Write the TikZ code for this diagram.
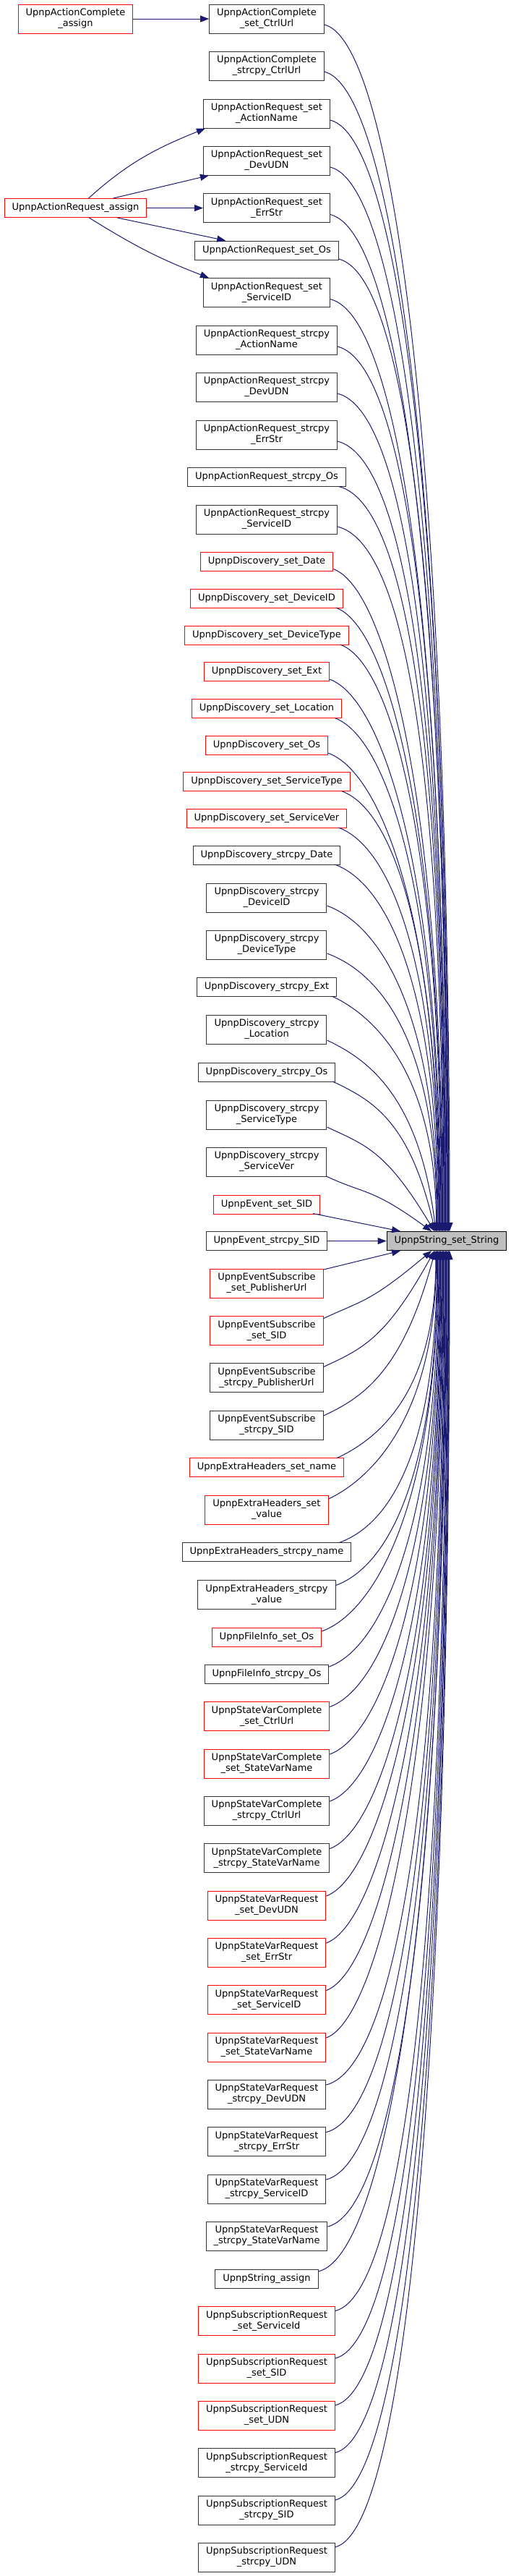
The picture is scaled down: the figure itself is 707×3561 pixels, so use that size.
\documentclass[tikz,border=0pt]{standalone}
\usepackage{fontspec}
\setmainfont{DejaVu Sans}
\usetikzlibrary{arrows.meta}
\definecolor{edgeblue}{HTML}{191970}
\definecolor{truncred}{HTML}{FF0000}

\begin{document}
\begin{tikzpicture}[x=0.05pt, y=-0.05pt, >={Triangle[length=0.6pt, width=0.45pt]},
	fn/.style={draw=black!80, fill=white, line width=0.05pt, font=\fontsize{0.65pt}{0.75pt}\selectfont, align=center, inner xsep=0.525pt, inner ysep=0.1pt, minimum height=1.3pt},
	two/.style={minimum height=2pt},
	trunc/.style={draw=truncred},
	call/.style={->, draw=edgeblue, line width=0.05pt},
	farup/.style={call, out=-14, out distance=5pt, in=90, in looseness=1.6},
	midup/.style={call, out=-20, out distance=4pt, in=90, in looseness=1.6},
	nearup/.style={call, out=-25, out distance=3pt, in looseness=1.6},
	farlo/.style={call, out=14, out distance=5pt, in=-90, in looseness=1.6},
	midlo/.style={call, out=20, out distance=4pt, in=-90, in looseness=1.6},
	nearlo/.style={call, out=25, out distance=3pt, in looseness=1.6}]
				\useasboundingbox (0,0) rectangle (707,3561);
				
				% 1. 左侧调用者与被调函数
				\node[fn, two, trunc] (acAssign) at (104.5,26) {UpnpActionComplete\\\_assign};
				\node[fn, trunc] (arAssign) at (104.5,287.5) {UpnpActionRequest\_assign};
				\node[fn, fill=black!25, draw=black] (tgt) at (618,1715.5) {UpnpString\_set\_String};
				
				% 2. 中间一列调用者 (上半部分)
				\node[fn, two] (acSetCtrlUrl) at (369,26) {UpnpActionComplete\\\_set\_CtrlUrl};
				\node[fn, two] (acCpyCtrlUrl) at (369,91) {UpnpActionComplete\\\_strcpy\_CtrlUrl};
				\node[fn, two] (arSetActionName) at (369,157) {UpnpActionRequest\_set\\\_ActionName};
				\node[fn, two] (arSetDevUDN) at (369,222) {UpnpActionRequest\_set\\\_DevUDN};
				\node[fn, two] (arSetErrStr) at (369,287.5) {UpnpActionRequest\_set\\\_ErrStr};
				\node[fn] (arSetOs) at (369,346) {UpnpActionRequest\_set\_Os};
				\node[fn, two] (arSetServiceID) at (369,404.5) {UpnpActionRequest\_set\\\_ServiceID};
				\node[fn, two] (arCpyActionName) at (369,470) {UpnpActionRequest\_strcpy\\\_ActionName};
				\node[fn, two] (arCpyDevUDN) at (369,535) {UpnpActionRequest\_strcpy\\\_DevUDN};
				\node[fn, two] (arCpyErrStr) at (369,601) {UpnpActionRequest\_strcpy\\\_ErrStr};
				\node[fn] (arCpyOs) at (369,659.5) {UpnpActionRequest\_strcpy\_Os};
				\node[fn, two] (arCpyServiceID) at (369,718) {UpnpActionRequest\_strcpy\\\_ServiceID};
				\node[fn, trunc] (dSetDate) at (369,776.5) {UpnpDiscovery\_set\_Date};
				\node[fn, trunc] (dSetDeviceID) at (369,827) {UpnpDiscovery\_set\_DeviceID};
				\node[fn, trunc] (dSetDeviceType) at (369,878) {UpnpDiscovery\_set\_DeviceType};
				\node[fn, trunc] (dSetExt) at (369,928) {UpnpDiscovery\_set\_Ext};
				\node[fn, trunc] (dSetLocation) at (369,979.5) {UpnpDiscovery\_set\_Location};
				\node[fn, trunc] (dSetOs) at (369,1030) {UpnpDiscovery\_set\_Os};
				\node[fn, trunc] (dSetServiceType) at (369,1080.5) {UpnpDiscovery\_set\_ServiceType};
				\node[fn, trunc] (dSetServiceVer) at (369,1131) {UpnpDiscovery\_set\_ServiceVer};
				\node[fn] (dCpyDate) at (369,1182) {UpnpDiscovery\_strcpy\_Date};
				\node[fn, two] (dCpyDeviceID) at (369,1241) {UpnpDiscovery\_strcpy\\\_DeviceID};
				\node[fn, two] (dCpyDeviceType) at (369,1306) {UpnpDiscovery\_strcpy\\\_DeviceType};
				\node[fn] (dCpyExt) at (369,1364.5) {UpnpDiscovery\_strcpy\_Ext};
				\node[fn, two] (dCpyLocation) at (369,1423) {UpnpDiscovery\_strcpy\\\_Location};
				\node[fn] (dCpyOs) at (369,1482) {UpnpDiscovery\_strcpy\_Os};
				\node[fn, two] (dCpyServiceType) at (369,1541) {UpnpDiscovery\_strcpy\\\_ServiceType};
				\node[fn, two] (dCpyServiceVer) at (369,1606) {UpnpDiscovery\_strcpy\\\_ServiceVer};
				\node[fn, trunc] (evSetSID) at (369,1665) {UpnpEvent\_set\_SID};
				\node[fn] (evCpySID) at (369,1715.5) {UpnpEvent\_strcpy\_SID};
				
				% 3. 中间一列调用者 (下半部分)
				\node[fn, two, trunc] (esSetPubUrl) at (369,1774) {UpnpEventSubscribe\\\_set\_PublisherUrl};
				\node[fn, two, trunc] (esSetSID) at (369,1839.5) {UpnpEventSubscribe\\\_set\_SID};
				\node[fn, two] (esCpyPubUrl) at (369,1904.5) {UpnpEventSubscribe\\\_strcpy\_PublisherUrl};
				\node[fn, two] (esCpySID) at (369,1970) {UpnpEventSubscribe\\\_strcpy\_SID};
				\node[fn, trunc] (ehSetName) at (369,2028.5) {UpnpExtraHeaders\_set\_name};
				\node[fn, two, trunc] (ehSetValue) at (369,2087) {UpnpExtraHeaders\_set\\\_value};
				\node[fn] (ehCpyName) at (369,2145.5) {UpnpExtraHeaders\_strcpy\_name};
				\node[fn, two] (ehCpyValue) at (369,2204.5) {UpnpExtraHeaders\_strcpy\\\_value};
				\node[fn, trunc] (fiSetOs) at (369,2263) {UpnpFileInfo\_set\_Os};
				\node[fn] (fiCpyOs) at (369,2314) {UpnpFileInfo\_strcpy\_Os};
				\node[fn, two, trunc] (svcSetCtrlUrl) at (369,2372.5) {UpnpStateVarComplete\\\_set\_CtrlUrl};
				\node[fn, two, trunc] (svcSetVarName) at (369,2438) {UpnpStateVarComplete\\\_set\_StateVarName};
				\node[fn, two] (svcCpyCtrlUrl) at (369,2503) {UpnpStateVarComplete\\\_strcpy\_CtrlUrl};
				\node[fn, two] (svcCpyVarName) at (369,2568.5) {UpnpStateVarComplete\\\_strcpy\_StateVarName};
				\node[fn, two, trunc] (svrSetDevUDN) at (369,2634) {UpnpStateVarRequest\\\_set\_DevUDN};
				\node[fn, two, trunc] (svrSetErrStr) at (369,2699) {UpnpStateVarRequest\\\_set\_ErrStr};
				\node[fn, two, trunc] (svrSetServiceID) at (369,2764.5) {UpnpStateVarRequest\\\_set\_ServiceID};
				\node[fn, two, trunc] (svrSetVarName) at (369,2830) {UpnpStateVarRequest\\\_set\_StateVarName};
				\node[fn, two] (svrCpyDevUDN) at (369,2895) {UpnpStateVarRequest\\\_strcpy\_DevUDN};
				\node[fn, two] (svrCpyErrStr) at (369,2960.5) {UpnpStateVarRequest\\\_strcpy\_ErrStr};
				\node[fn, two] (svrCpyServiceID) at (369,3026) {UpnpStateVarRequest\\\_strcpy\_ServiceID};
				\node[fn, two] (svrCpyVarName) at (369,3091) {UpnpStateVarRequest\\\_strcpy\_StateVarName};
				\node[fn] (strAssign) at (369,3150) {UpnpString\_assign};
				\node[fn, two, trunc] (srSetServiceId) at (369,3208.5) {UpnpSubscriptionRequest\\\_set\_ServiceId};
				\node[fn, two, trunc] (srSetSID) at (369,3274) {UpnpSubscriptionRequest\\\_set\_SID};
				\node[fn, two, trunc] (srSetUDN) at (369,3339) {UpnpSubscriptionRequest\\\_set\_UDN};
				\node[fn, two] (srCpyServiceId) at (369,3404.5) {UpnpSubscriptionRequest\\\_strcpy\_ServiceId};
				\node[fn, two] (srCpySID) at (369,3470) {UpnpSubscriptionRequest\\\_strcpy\_SID};
				\node[fn, two] (srCpyUDN) at (369,3535) {UpnpSubscriptionRequest\\\_strcpy\_UDN};
				
				% 4. 左侧调用关系
				\draw[call] (acAssign) -- (acSetCtrlUrl);
				\draw[call] ([shift={(18,0)}]arAssign.north) to[out=42, in=-158] ([shift={(3,0)}]arSetActionName.south west);
				\draw[call] ([shift={(52,0)}]arAssign.north) -- ([shift={(8,0)}]arSetDevUDN.south west);
				\draw[call] (arAssign) -- (arSetErrStr);
				\draw[call] ([shift={(58,0)}]arAssign.south) -- ([shift={(43,0)}]arSetOs.north west);
				\draw[call] ([shift={(19,0)}]arAssign.south) to[out=-32, in=159] ([shift={(8,0)}]arSetServiceID.north west);
				
				% 5. 汇入目标顶部的连线
				\draw[farup] ([shift={(0,8)}]acSetCtrlUrl.east) to ([shift={(4,0)}]tgt.north);
				\draw[farup] ([shift={(0,8)}]acCpyCtrlUrl.east) to ([shift={(3,0)}]tgt.north);
				\draw[farup] ([shift={(0,9)}]arSetActionName.east) to ([shift={(2.5,0)}]tgt.north);
				\draw[farup] ([shift={(0,9)}]arSetDevUDN.east) to ([shift={(1.5,0)}]tgt.north);
				\draw[farup] ([shift={(0,9)}]arSetErrStr.east) to ([shift={(1,0)}]tgt.north);
				\draw[farup] ([shift={(0,12)}]arSetOs.east) to (tgt.north);
				\draw[farup] ([shift={(0,9)}]arSetServiceID.east) to ([shift={(-1,0)}]tgt.north);
				\draw[farup] ([shift={(0,9)}]arCpyActionName.east) to ([shift={(-1.5,0)}]tgt.north);
				\draw[farup] ([shift={(0,9)}]arCpyDevUDN.east) to ([shift={(-2.5,0)}]tgt.north);
				\draw[farup] ([shift={(0,9)}]arCpyErrStr.east) to ([shift={(-3,0)}]tgt.north);
				\draw[farup] ([shift={(-10,13)}]arCpyOs.east) to ([shift={(-4,0)}]tgt.north);
				\draw[farup] ([shift={(0,10)}]arCpyServiceID.east) to ([shift={(-5,0)}]tgt.north);
				\draw[midup] ([shift={(0,10)}]dSetDate.east) to ([shift={(-5.5,0)}]tgt.north);
				\draw[midup] ([shift={(-10,13)}]dSetDeviceID.east) to ([shift={(-6.5,0)}]tgt.north);
				\draw[midup] ([shift={(-12,13)}]dSetDeviceType.east) to ([shift={(-7,0)}]tgt.north);
				\draw[midup] ([shift={(0,11)}]dSetExt.east) to ([shift={(-8,0)}]tgt.north);
				\draw[midup] ([shift={(-10,13)}]dSetLocation.east) to ([shift={(-9,0)}]tgt.north);
				\draw[midup] ([shift={(0,11)}]dSetOs.east) to ([shift={(-9.5,0)}]tgt.north);
				\draw[midup] ([shift={(-12,13)}]dSetServiceType.east) to ([shift={(-10.5,0)}]tgt.north);
				\draw[midup] ([shift={(-12,13)}]dSetServiceVer.east) to ([shift={(-11,0)}]tgt.north);
				\draw[midup] ([shift={(-8,13)}]dCpyDate.east) to ([shift={(-12,0)}]tgt.north);
				\draw[midup] ([shift={(0,11)}]dCpyDeviceID.east) to ([shift={(-13,0)}]tgt.north);
				\draw[midup] ([shift={(0,12)}]dCpyDeviceType.east) to ([shift={(-13.5,0)}]tgt.north);
				\draw[nearup, in=90] ([shift={(-6,13)}]dCpyExt.east) to ([shift={(-14.5,0)}]tgt.north);
				\draw[nearup, in=97] ([shift={(0,15)}]dCpyLocation.east) to ([shift={(-15,0)}]tgt.north);
				\draw[nearup, in=103] ([shift={(-4,13)}]dCpyOs.east) to ([shift={(-16,0)}]tgt.north);
				\draw[nearup, in=121] ([shift={(0,17)}]dCpyServiceType.east) to ([shift={(-17,0)}]tgt.north);
				\draw[nearup, in=144] ([shift={(-1,20)}]dCpyServiceVer.east) to ([shift={(-21,0)}]tgt.north);
				\draw[call] ([shift={(-10,12.5)}]evSetSID.east) -- ([shift={(-64,0)}]tgt.north);
				\draw[call] (evCpySID) -- (tgt);
				
				% 6. 汇入目标底部的连线
				\draw[call] ([shift={(0,-19)}]esSetPubUrl.east) -- ([shift={(-64,0)}]tgt.south);
				\draw[nearlo, in=-140] ([shift={(0,-17)}]esSetSID.east) to ([shift={(-21,0)}]tgt.south);
				\draw[nearlo, in=-119] ([shift={(0,-15)}]esCpyPubUrl.east) to ([shift={(-17,0)}]tgt.south);
				\draw[nearlo, in=-105] ([shift={(0,-13)}]esCpySID.east) to ([shift={(-16,0)}]tgt.south);
				\draw[nearlo, in=-90] ([shift={(-10,-13)}]ehSetName.east) to ([shift={(-15,0)}]tgt.south);
				\draw[nearlo, in=-90] ([shift={(0,-15)}]ehSetValue.east) to ([shift={(-14.5,0)}]tgt.south);
				\draw[midlo] ([shift={(-17,-13)}]ehCpyName.east) to ([shift={(-13.5,0)}]tgt.south);
				\draw[midlo] ([shift={(0,-13)}]ehCpyValue.east) to ([shift={(-12.5,0)}]tgt.south);
				\draw[midlo] ([shift={(0,-8)}]fiSetOs.east) to ([shift={(-12,0)}]tgt.south);
				\draw[midlo] ([shift={(0,-10)}]fiCpyOs.east) to ([shift={(-11,0)}]tgt.south);
				\draw[midlo] ([shift={(0,-13)}]svcSetCtrlUrl.east) to ([shift={(-10,0)}]tgt.south);
				\draw[midlo] ([shift={(0,-13)}]svcSetVarName.east) to ([shift={(-9.5,0)}]tgt.south);
				\draw[midlo] ([shift={(0,-13)}]svcCpyCtrlUrl.east) to ([shift={(-8.5,0)}]tgt.south);
				\draw[midlo] ([shift={(0,-13)}]svcCpyVarName.east) to ([shift={(-8,0)}]tgt.south);
				\draw[midlo] ([shift={(0,-13)}]svrSetDevUDN.east) to ([shift={(-7,0)}]tgt.south);
				\draw[midlo] ([shift={(0,-13)}]svrSetErrStr.east) to ([shift={(-6,0)}]tgt.south);
				\draw[midlo] ([shift={(0,-13)}]svrSetServiceID.east) to ([shift={(-5.5,0)}]tgt.south);
				\draw[midlo] ([shift={(0,-13)}]svrSetVarName.east) to ([shift={(-4.5,0)}]tgt.south);
				\draw[farlo] ([shift={(0,-13)}]svrCpyDevUDN.east) to ([shift={(-4,0)}]tgt.south);
				\draw[farlo] ([shift={(0,-13)}]svrCpyErrStr.east) to ([shift={(-3,0)}]tgt.south);
				\draw[farlo] ([shift={(0,-13)}]svrCpyServiceID.east) to ([shift={(-2,0)}]tgt.south);
				\draw[farlo] ([shift={(0,-13)}]svrCpyVarName.east) to ([shift={(-1.5,0)}]tgt.south);
				\draw[farlo] ([shift={(0,-10)}]strAssign.east) to ([shift={(-0.5,0)}]tgt.south);
				\draw[farlo] ([shift={(0,-14)}]srSetServiceId.east) to (tgt.south);
				\draw[farlo] ([shift={(0,-14)}]srSetSID.east) to ([shift={(1,0)}]tgt.south);
				\draw[farlo] ([shift={(0,-14)}]srSetUDN.east) to ([shift={(2,0)}]tgt.south);
				\draw[farlo] ([shift={(0,-14)}]srCpyServiceId.east) to ([shift={(2.5,0)}]tgt.south);
				\draw[farlo] ([shift={(0,-14)}]srCpySID.east) to ([shift={(3.5,0)}]tgt.south);
				\draw[farlo] ([shift={(0,-14)}]srCpyUDN.east) to ([shift={(4,0)}]tgt.south);
			\end{tikzpicture}
\end{document}
